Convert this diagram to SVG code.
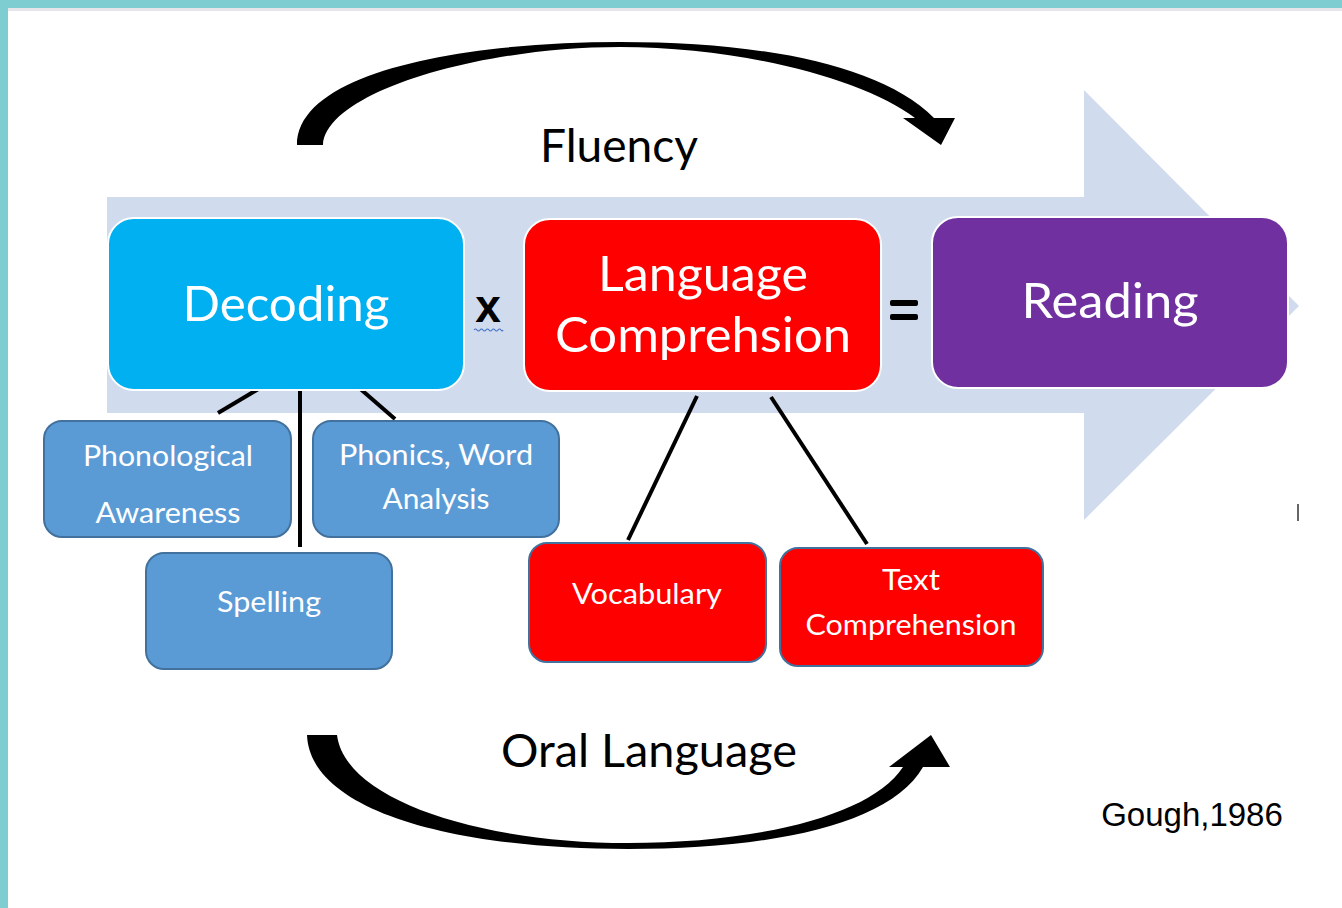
<svg xmlns="http://www.w3.org/2000/svg" width="1342" height="908" viewBox="0 0 1342 908">
<defs>
<style>
.main{stroke:#ffffff;stroke-width:2}
.sub{stroke:#41719c;stroke-width:2}
.t{font-family:Lato,"Open Sans",sans-serif;fill:#ffffff;text-anchor:middle}
.big{font-size:49px}
.small{font-size:29px}
.lbl{font-family:Lato,"Open Sans",sans-serif;fill:#000000;text-anchor:middle;font-size:47px}
.con{stroke:#000000;stroke-width:4;fill:none}
</style>
</defs>
<rect x="0" y="0" width="1342" height="908" fill="#ffffff"/>
<rect x="0" y="0" width="1342" height="8" fill="#7ecdd1"/>
<rect x="0" y="0" width="8" height="908" fill="#7ecdd1"/>
<rect x="8" y="8" width="1334" height="3" fill="#e6e6ea"/>

<g id="big-arrow">
<polygon points="107,197 1084,197 1084,90 1299,306 1084,520 1084,413 107,413" fill="#d0dcee"/>
</g>

<g id="fluency-arrow">
<path d="M297,145 L323,145 C326,92 480,47 620,47 C740,47 862,78 915,118 L903,118 L941,145 L955,118 L934,118 C880,64 760,42 620,42 C470,42 297,70 297,145 Z" fill="#000000"/>
<text class="lbl" x="619" y="162" textLength="158" lengthAdjust="spacingAndGlyphs">Fluency</text>
</g>

<g id="oral-arrow">
<path d="M307,735 L337,735 C345,800 480,843 628,843 C760,843 872,815 903,767 L889,767 L931,735 L950,767 L923,767 C890,825 770,849 628,849 C450,849 310,810 307,735 Z" fill="#000000"/>
<text class="lbl" x="649" y="767" textLength="296" lengthAdjust="spacingAndGlyphs">Oral Language</text>
</g>

<g id="connectors">
<line class="con" x1="260" y1="388" x2="218" y2="413"/>
<line class="con" x1="300" y1="384" x2="300" y2="547"/>
<line class="con" x1="357" y1="386" x2="395" y2="419"/>
<line class="con" x1="697" y1="396" x2="628" y2="540"/>
<line class="con" x1="771" y1="397" x2="867" y2="544"/>
</g>

<g id="decoding">
<rect class="main" x="108" y="218" width="356" height="172" rx="26" fill="#00b0f0"/>
<text class="t big" x="286" y="321" textLength="207" lengthAdjust="spacingAndGlyphs">Decoding</text>
</g>

<g id="times">
<text x="488" y="322" font-family="'Liberation Sans',Arial,sans-serif" font-weight="bold" font-size="46" text-anchor="middle" fill="#000000">x</text>
<path d="M474,330 q1.5,-2 3,0 t3,0 t3,0 t3,0 t3,0 t3,0 t3,0 t3,0 t3,0 t2,0" stroke="#4472c4" stroke-width="1.2" fill="none"/>
</g>

<g id="language-comprehension">
<rect class="main" x="524" y="219" width="357" height="172" rx="26" fill="#ff0000"/>
<text class="t big" x="703" y="291" textLength="210" lengthAdjust="spacingAndGlyphs">Language</text>
<text class="t big" x="703" y="352" textLength="296" lengthAdjust="spacingAndGlyphs">Comprehsion</text>
</g>

<g id="equals">
<rect x="890" y="300" width="28" height="6" rx="2" fill="#000000"/>
<rect x="890" y="314" width="28" height="6" rx="2" fill="#000000"/>
</g>

<g id="reading">
<rect class="main" x="932" y="217" width="356" height="171" rx="26" fill="#7030a0"/>
<text class="t big" x="1110" y="318" textLength="177" lengthAdjust="spacingAndGlyphs">Reading</text>
</g>

<g id="phonological-awareness">
<rect class="sub" x="44" y="421" width="247" height="116" rx="18" fill="#5b9bd5"/>
<text class="t small" x="168" y="466" textLength="170" lengthAdjust="spacingAndGlyphs">Phonological</text>
<text class="t small" x="168" y="523" textLength="145" lengthAdjust="spacingAndGlyphs">Awareness</text>
</g>

<g id="phonics">
<rect class="sub" x="313" y="421" width="246" height="116" rx="18" fill="#5b9bd5"/>
<text class="t small" x="436" y="465" textLength="194" lengthAdjust="spacingAndGlyphs">Phonics, Word</text>
<text class="t small" x="436" y="509" textLength="107" lengthAdjust="spacingAndGlyphs">Analysis</text>
</g>

<g id="spelling">
<rect class="sub" x="146" y="553" width="246" height="116" rx="18" fill="#5b9bd5"/>
<text class="t small" x="269" y="612" textLength="104" lengthAdjust="spacingAndGlyphs">Spelling</text>
</g>

<g id="vocabulary">
<rect class="sub" x="529" y="543" width="237" height="119" rx="18" fill="#ff0000"/>
<text class="t small" x="647" y="604" textLength="150" lengthAdjust="spacingAndGlyphs">Vocabulary</text>
</g>

<g id="text-comprehension">
<rect class="sub" x="780" y="548" width="263" height="118" rx="18" fill="#ff0000"/>
<text class="t small" x="911" y="590" textLength="58" lengthAdjust="spacingAndGlyphs">Text</text>
<text class="t small" x="911" y="635" textLength="211" lengthAdjust="spacingAndGlyphs">Comprehension</text>
</g>

<g id="citation">
<text x="1192" y="826" font-family="'Liberation Sans',Arial,sans-serif" font-size="33" text-anchor="middle" fill="#000000">Gough,1986</text>
</g>

<line x1="1298" y1="504" x2="1298" y2="521" stroke="#333333" stroke-width="1.5"/>
</svg>
